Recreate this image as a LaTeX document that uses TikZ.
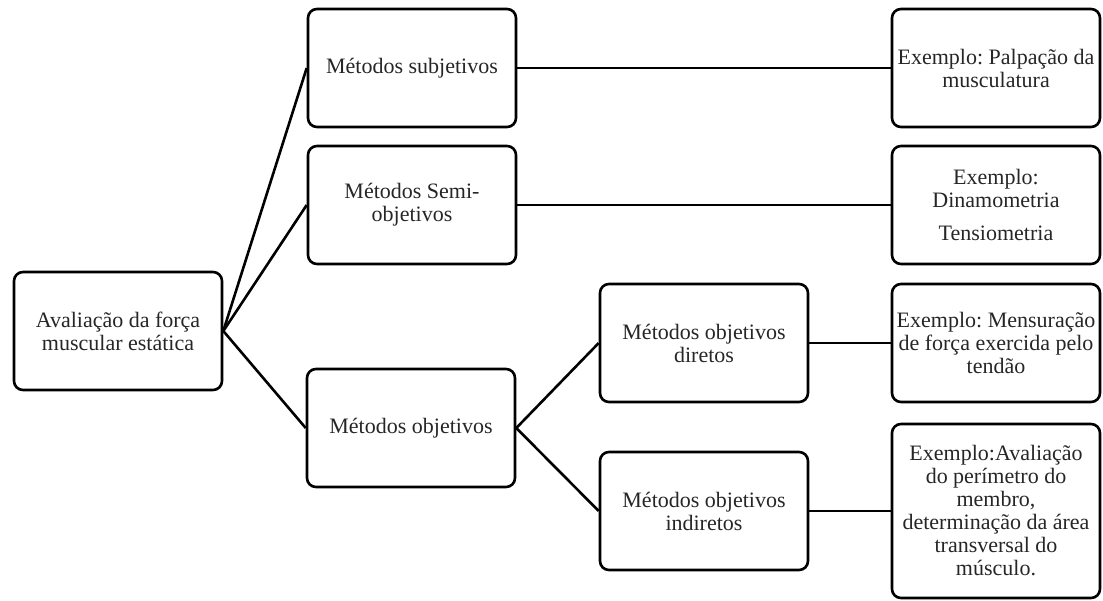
\documentclass[tikz,border=0pt]{standalone}
\usepackage{fontspec}
\setmainfont{Liberation Serif}
\frenchspacing
\begin{document}
\begin{tikzpicture}[x=1pt,y=-1pt,
    caixa/.style={draw=black, line width=2.6pt, rounded corners=9pt, minimum width=208pt, minimum height=118pt, align=center, inner sep=1pt, text=black!85, font=\fontsize{22}{23}\selectfont},
    liga/.style={line width=2.6pt}]
\useasboundingbox (0,0) rectangle (1103,600);
% raiz
\node[caixa] (raiz) at (118,331) {Avaliação da força\\muscular estática};
% metodos
\node[caixa] (subj) at (412,68) {Métodos subjetivos};
\node[caixa] (semi) at (412,205) {Métodos Semi-\\objetivos};
\node[caixa] (obj) at (411,428) {Métodos objetivos};
\node[caixa] (dir) at (704,343) {Métodos objetivos\\diretos};
\node[caixa] (ind) at (704,511) {Métodos objetivos\\indiretos};
% exemplos
\node[caixa] (exsubj) at (996,68) {Exemplo: Palpação da\\musculatura};
\node[caixa] (exsemi) at (996,205) {Exemplo:\\Dinamometria\\[10pt]Tensiometria};
\node[caixa] (exdir) at (996,343) {Exemplo: Mensuração\\de força exercida pelo\\tendão};
\node[caixa, minimum height=174pt] (exind) at (996,511) {Exemplo:Avaliação\\do perímetro do\\membro,\\determinação da área\\transversal do\\músculo.};
% ligacoes
\foreach \m in {subj,semi,obj}
    \draw[liga] (raiz.east) -- (\m.west);
\foreach \m in {dir,ind}
    \draw[liga] (obj.east) -- (\m.west);
\draw[liga] (subj) -- (exsubj);
\draw[liga] (semi) -- (exsemi);
\draw[liga] (dir) -- (exdir);
\draw[liga] (ind) -- (exind);
\end{tikzpicture}
\end{document}
